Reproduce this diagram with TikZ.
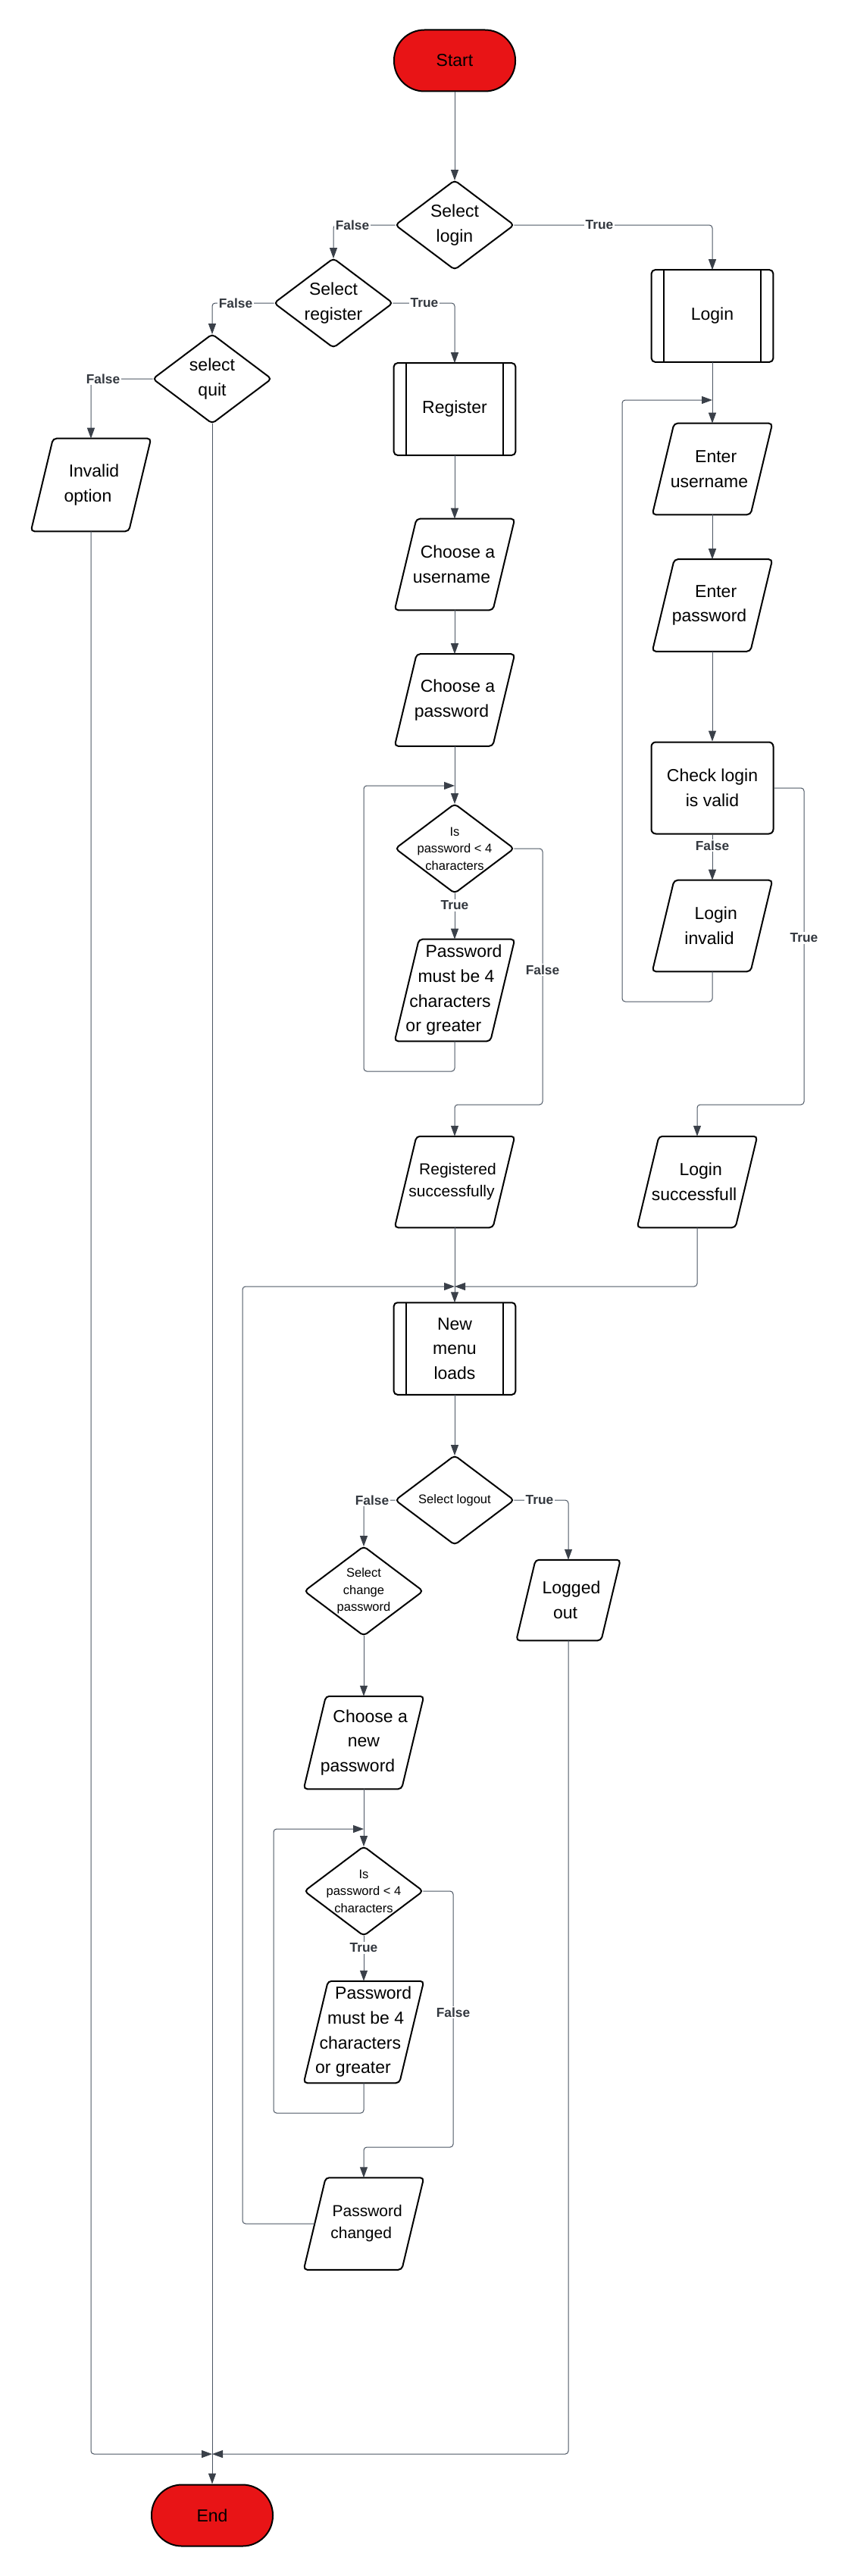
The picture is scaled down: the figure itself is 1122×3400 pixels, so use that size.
\documentclass[tikz,border=0pt]{standalone}
\usepackage{fontspec}
\setmainfont{Liberation Sans}
\usetikzlibrary{arrows.meta,calc}
\definecolor{lnc}{HTML}{4B5563}
\definecolor{arc}{HTML}{3A4049}
\definecolor{redf}{RGB}{232,20,22}
\definecolor{lbl}{HTML}{33383F}
\newcommand\fsz[2]{\fontsize{#1}{#2}\selectfont}
\newcommand\ls[2]{\makebox[0pt][c]{\hspace*{#1}\hspace*{#1}#2}}
\tikzset{
  base/.style={inner sep=0pt, align=center, text=black},
  mainf/.style={font=\fsz{17.25pt}{24.5pt}},
  midf/.style={font=\fsz{15.75pt}{21.75pt}},
  smallf/.style={font=\fsz{12.4pt}{16.9pt}},
  outl/.style={draw=black, line width=1.5pt, rounded corners=3.5pt},
  conn/.style={draw=lnc, line width=0.75pt, rounded corners=3pt},
  arr/.style={conn, -{Triangle[length=10.5pt,width=7.5pt,color=arc]}},
  lab/.style={fill=white, inner sep=1.2pt, text=lbl, font=\fsz{13pt}{15pt}\bfseries},
  term/.style={base, mainf, minimum width=120pt, minimum height=60.75pt,
    rounded corners=30pt, draw=black, line width=1.5pt, fill=redf}
}
% decision: name, x, y, text, font
\newcommand\dec[5]{%
  \node[base,#5,minimum width=117pt,minimum height=88pt] (#1) at (#2,#3) {#4};
  \draw[outl] (#1.north) -- (#1.east) -- (#1.south) -- (#1.west) -- cycle;}
% predefined process: name, x, y, text
\newcommand\proc[4]{%
  \node[base,mainf,minimum width=120pt,minimum height=90.75pt] (#1) at (#2,#3) {#4};
  \draw[outl] (#1.south west) rectangle (#1.north east);
  \draw[line width=1.5pt] ([xshift=12pt]#1.south west) -- ([xshift=12pt]#1.north west);
  \draw[line width=1.5pt] ([xshift=-12pt]#1.south east) -- ([xshift=-12pt]#1.north east);}
% input/output: name, x, y, wpx, hpx, text, font
\newcommand\io[7]{%
  \node[base,#7,minimum width=#4*0.75pt,minimum height=#5*0.75pt] (#1) at (#2,#3) {#6};
  \pgfmathsetmacro\ioslant{0.24*#5*0.75}%
  \pgfmathsetmacro\ioslanth{0.12*#5*0.75}%
  \draw[outl] (#1.south west) -- ([xshift=-\ioslant pt]#1.south east) -- (#1.north east)
     -- ([xshift=\ioslant pt]#1.north west) -- cycle;
  \coordinate (#1-l) at ([xshift=\ioslanth pt]#1.west);}
\begin{document}
\begin{tikzpicture}[x=0.75pt,y=-0.75pt]
\useasboundingbox (0,0) rectangle (1122,3400);
\fill[white] (0,0) rectangle (1122,3400);

% ---- nodes ----
\node[term] (start) at (600,80) {Start};
\dec{sl}{600}{297}{Select\\login}{mainf}
\dec{sr}{440}{400}{Select\\register}{mainf}
\dec{sq}{280}{500}{select\\quit}{mainf}
\proc{login}{940}{417}{Login}
\proc{reg}{600}{540}{Register}
\io{inv}{120}{640}{158}{122}{\ls{3pt}{Invalid}\\\ls{-3pt}{option}}{mainf}
\io{cu}{600}{745}{158}{120}{\ls{3pt}{Choose a}\\\ls{-3pt}{username}}{mainf}
\io{cp}{600}{924}{158}{121}{\ls{3pt}{Choose a}\\\ls{-3pt}{password}}{mainf}
\io{eu}{940}{619}{158}{120}{\ls{3.5pt}{Enter}\\\ls{-3pt}{username}}{mainf}
\io{ep}{940}{799}{158}{121}{\ls{3.5pt}{Enter}\\\ls{-3pt}{password}}{mainf}
\node[base,mainf,minimum width=120.75pt,minimum height=90.75pt,draw=black,line width=1.5pt,rounded corners=4.5pt] (chk) at (940,1040) {Check login\\is valid};
\dec{ip1}{600}{1120}{Is\\password < 4\\characters}{smallf}
\io{pm1}{600}{1307}{158}{134}{\ls{9pt}{Password}\\\ls{1.5pt}{must be 4}\\\ls{-4.5pt}{characters}\\\ls{-11pt}{or greater}}{mainf}
\io{li}{940}{1222}{158}{120}{\ls{3.5pt}{Login}\\\ls{-3pt}{invalid}}{mainf}
\io{rs}{600}{1560}{158}{120}{\ls{3pt}{Registered}\\\ls{-3pt}{successfully}}{midf}
\io{lsu}{920}{1560}{158}{120}{\ls{3.5pt}{Login}\\\ls{-3pt}{successfull}}{mainf}
\proc{nm}{600}{1780}{New\\menu\\loads}
\dec{lo}{600}{1980}{Select logout}{smallf}
\dec{cpw}{480}{2100}{Select\\change\\password}{smallf}
\io{out}{750}{2112}{137}{106}{\ls{3pt}{Logged}\\\ls{-3pt}{out}}{mainf}
\io{np}{480}{2300}{158}{122}{\ls{6.5pt}{Choose a}\\new\\\ls{-6pt}{password}}{mainf}
\dec{ip2}{480}{2496}{Is\\password < 4\\characters}{smallf}
\io{pm2}{480}{2682}{158}{134}{\ls{9.5pt}{Password}\\\ls{2pt}{must be 4}\\\ls{-3.5pt}{characters}\\\ls{-10.5pt}{or greater}}{mainf}
\io{pc}{480}{2935}{158}{121}{\ls{3.5pt}{Password}\\\ls{-2.5pt}{changed}}{midf}
\node[term] (end) at (280,3320) {End};

% ---- junction coordinates ----
\coordinate (lj) at (940,528);
\coordinate (rj1) at (600,1037);
\coordinate (mj) at (600,1698);
\coordinate (rj2) at (480,2414);
\coordinate (ej) at (280,3239);

% ---- connectors ----
\draw[arr] (start.south) -- (sl.north);
\draw[arr] (sl.west) -| (sr.north);
\draw[arr] (sl.east) -| (login.north);
\draw[arr] (sr.west) -| (sq.north);
\draw[arr] (sr.east) -| (reg.north);
\draw[arr] (sq.west) -| (inv.north);
\draw[arr] (sq.south) -- (end.north);
\draw[arr] (login.south) -- (eu.north);
\draw[arr] (eu.south) -- (ep.north);
\draw[arr] (ep.south) -- (chk.north);
\draw[arr] (chk.south) -- (li.north);
\draw[arr] (li.south) |- (821,1322) |- (lj);
\draw[arr] (chk.east) -| (1061,1458) -| (lsu.north);
\draw[arr] (reg.south) -- (cu.north);
\draw[arr] (cu.south) -- (cp.north);
\draw[arr] (cp.south) -- (ip1.north);
\draw[arr] (ip1.south) -- (pm1.north);
\draw[arr] (pm1.south) |- (480,1414) |- (rj1);
\draw[arr] (ip1.east) -| (716,1458) -| (rs.north);
\draw[arr] (rs.south) -- (nm.north);
\draw[arr] (lsu.south) |- (mj);
\draw[arr] (pc-l) -| (320,1698) -- (mj);
\draw[arr] (nm.south) -- (lo.north);
\draw[arr] (lo.west) -| (cpw.north);
\draw[arr] (lo.east) -| (out.north);
\draw[arr] (cpw.south) -- (np.north);
\draw[arr] (np.south) -- (ip2.north);
\draw[arr] (ip2.south) -- (pm2.north);
\draw[arr] (pm2.south) |- (361,2789) |- (rj2);
\draw[arr] (ip2.east) -| (598,2834) -| (pc.north);
\draw[arr] (out.south) |- (ej);
\draw[arr] (inv.south) |- (ej);

% ---- labels ----
\node[lab] (l1) at (465,297) {False};
\node[lab] (l2) at (791,297) {True};
\node[lab] (l3) at (311,400) {False};
\node[lab] (l4) at (560,400) {True};
\node[lab] (l5) at (136,500) {False};
\node[lab] (l6) at (940,1116) {False};
\node[lab] (l7) at (1061,1238) {True};
\node[lab] (l8) at (600,1195) {True};
\node[lab] (l9) at (716,1280) {False};
\node[lab] (l10) at (491,1980) {False};
\node[lab] (l11) at (712,1980) {True};
\node[lab] (l12) at (480,2571) {True};
\node[lab] (l13) at (598,2656) {False};
\end{tikzpicture}
\end{document}
